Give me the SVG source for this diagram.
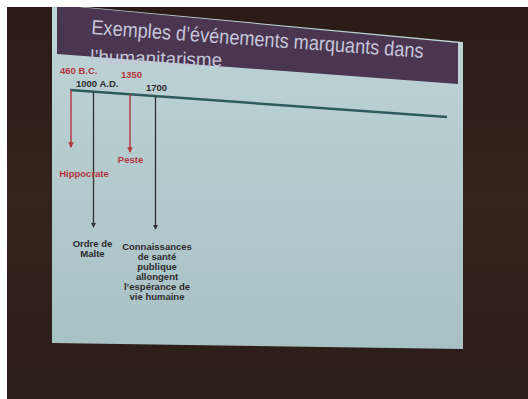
<svg xmlns="http://www.w3.org/2000/svg" width="528" height="399" viewBox="0 0 528 399">
  <style>
    .title { font-family: "Liberation Sans", Arial, sans-serif; fill: #c6c5d9; }
    .lbl { font-family: "Liberation Sans", Arial, sans-serif; font-size: 9.5px; font-weight: bold; }
    .red { fill: #b5363c; }
    .dark { fill: #2c2a2e; }
    .rline { stroke: #b5363c; stroke-width: 1.4; fill: none; }
    .dline { stroke: #2f3033; stroke-width: 1.3; fill: none; }
  </style>
  <defs>
    <linearGradient id="bodyGrad" x1="0" y1="0" x2="0" y2="1">
      <stop offset="0" stop-color="#bfd4d7"/>
      <stop offset="1" stop-color="#a8c1c5"/>
    </linearGradient>
    <linearGradient id="bgGrad" x1="0" y1="0" x2="0" y2="1">
      <stop offset="0" stop-color="#2a1b16"/>
      <stop offset="0.5" stop-color="#33231d"/>
      <stop offset="1" stop-color="#2b1d18"/>
    </linearGradient>
    <marker id="arrR" viewBox="0 0 6 6" refX="5" refY="3" markerWidth="4" markerHeight="4" orient="auto" markerUnits="strokeWidth">
      <path d="M0,0 L6,3 L0,6 Z" fill="#b5363c"/>
    </marker>
    <marker id="arrD" viewBox="0 0 6 6" refX="5" refY="3" markerWidth="4" markerHeight="4" orient="auto" markerUnits="strokeWidth">
      <path d="M0,0 L6,3 L0,6 Z" fill="#2f3033"/>
    </marker>
  </defs>

  <!-- background -->
  <rect x="0" y="0" width="528" height="399" fill="url(#bgGrad)"/>

  <!-- slide -->
  <g id="slide">
    <polygon points="52,4 463,42 463,349 52,343" fill="url(#bodyGrad)"/>
    <polygon points="57,5 458,43 458,84 57,54" fill="#4b3651"/>
  </g>

  <rect x="0" y="0" width="528" height="7" fill="#ffffff"/>
  <rect x="0" y="0" width="7" height="399" fill="#ffffff"/>

  <!-- title -->
  <g id="title">
    <text class="title" x="91" y="34" font-size="20.5" transform="rotate(4.1 91 34)" textLength="333" lengthAdjust="spacingAndGlyphs">Exemples d’événements marquants dans</text>
    <text class="title" x="90" y="63" font-size="19" transform="rotate(1.5 90 63)" textLength="132" lengthAdjust="spacingAndGlyphs">l’humanitarisme</text>
  </g>

  <!-- connectors -->
  <g id="connectors">
    <line id="timeline" x1="70" y1="90" x2="447" y2="117" stroke="#2f5b5c" stroke-width="2.4"/>
    <line class="rline" x1="71" y1="90" x2="71" y2="147" marker-end="url(#arrR)"/>
    <line class="dline" x1="93.5" y1="92" x2="93.5" y2="227" marker-end="url(#arrD)"/>
    <line class="rline" x1="130" y1="94" x2="130" y2="152" marker-end="url(#arrR)"/>
    <line class="dline" x1="155.5" y1="96" x2="155.5" y2="229" marker-end="url(#arrD)"/>
  </g>

  <!-- events -->
  <g id="event-460bc">
    <text class="lbl red" x="60" y="74">460 B.C.</text>
    <text class="lbl red" x="84" y="177" text-anchor="middle" font-size="10">Hippocrate</text>
  </g>
  <g id="event-1000ad">
    <text class="lbl dark" x="76" y="87">1000 A.D.</text>
    <text class="lbl dark" x="92.5" y="247" text-anchor="middle">Ordre de</text>
    <text class="lbl dark" x="92.5" y="257" text-anchor="middle">Malte</text>
  </g>
  <g id="event-1350">
    <text class="lbl red" x="121" y="78">1350</text>
    <text class="lbl red" x="130.5" y="163" text-anchor="middle">Peste</text>
  </g>
  <g id="event-1700">
    <text class="lbl dark" x="146" y="91">1700</text>
    <text class="lbl dark" x="157" y="250" text-anchor="middle">Connaissances</text>
    <text class="lbl dark" x="157" y="260" text-anchor="middle">de santé</text>
    <text class="lbl dark" x="157" y="270" text-anchor="middle">publique</text>
    <text class="lbl dark" x="157" y="280" text-anchor="middle">allongent</text>
    <text class="lbl dark" x="157" y="290" text-anchor="middle">l’espérance de</text>
    <text class="lbl dark" x="157" y="300" text-anchor="middle">vie humaine</text>
  </g>
</svg>
